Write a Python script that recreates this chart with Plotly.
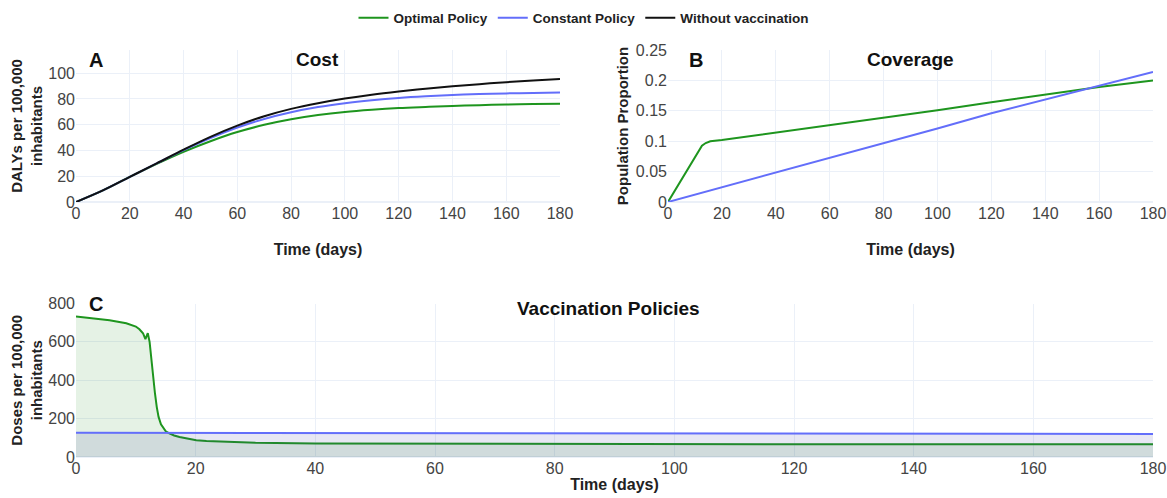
import plotly.graph_objects as go

# ---- Data ----
t_cost = [0, 10, 20, 30, 40, 50, 60, 70, 80, 90, 100, 110, 120, 130, 140, 150, 160, 170, 180]
cost_optimal = [0, 9, 19.5, 29.6, 39, 47.2, 54.3, 59.9, 64.2, 67.5, 69.9, 71.6, 72.9, 73.8, 74.6, 75.2, 75.7, 76, 76.3]
cost_constant = [0, 9, 19.5, 30, 40.3, 49.7, 57.8, 64.5, 69.7, 73.7, 76.7, 79, 80.8, 82.1, 83.1, 83.8, 84.3, 84.7, 85]
cost_without = [0, 9, 19.5, 30, 40.6, 50.6, 59.3, 66.6, 72.3, 76.7, 80.3, 83.3, 85.8, 88, 89.9, 91.5, 93, 94.3, 95.5]

t_cov_opt = [0, 12.6, 14, 15.7, 20, 40, 60, 80, 100, 120, 140, 160, 180]
cov_optimal = [0, 0.0926, 0.097, 0.1, 0.102, 0.114, 0.126, 0.139, 0.151, 0.164, 0.177, 0.189, 0.2]
t_cov_const = [0, 20, 40, 60, 80, 100, 120, 140, 160, 180]
cov_constant = [0, 0.024, 0.048, 0.073, 0.097, 0.121, 0.146, 0.169, 0.192, 0.214]

t_dose_opt = [0, 2, 4, 5.6, 8.4, 10.0, 10.6, 11.2, 11.6, 12.0, 12.3, 12.6, 12.9, 13.2, 13.5, 13.8, 14.2, 14.6, 15.0, 15.6, 16.4, 17.3, 18.5, 20.1, 21.8, 25, 30, 40, 60, 80, 100, 120, 140, 160, 180]
dose_optimal = [732, 726, 719, 713, 697, 680, 666, 645, 614, 645, 600, 505, 420, 331, 260, 209, 170, 148, 134, 123, 112, 104, 95, 87, 83, 78, 74, 71, 69, 68, 67, 66.5, 66, 66, 66]
t_dose_const = [0, 30, 60, 90, 120, 150, 180]
dose_constant = [126, 125.5, 124.5, 123.5, 122.5, 121.5, 120.5]

GREEN = "#1e951e"
BLUE = "#636efa"
BLACK = "#111111"
FONT = "Liberation Sans, Arial, sans-serif"

fig = go.Figure()

# Panel A
fig.add_trace(go.Scatter(x=t_cost, y=cost_optimal, mode="lines", line=dict(color=GREEN, width=2, shape="spline"),
                         name="Optimal Policy", legendgroup="opt", xaxis="x", yaxis="y"))
fig.add_trace(go.Scatter(x=t_cost, y=cost_constant, mode="lines", line=dict(color=BLUE, width=2, shape="spline"),
                         name="Constant Policy", legendgroup="const", xaxis="x", yaxis="y"))
fig.add_trace(go.Scatter(x=t_cost, y=cost_without, mode="lines", line=dict(color=BLACK, width=2, shape="spline"),
                         name="Without vaccination", legendgroup="without", xaxis="x", yaxis="y"))

# Panel B
fig.add_trace(go.Scatter(x=t_cov_opt, y=cov_optimal, mode="lines", line=dict(color=GREEN, width=2),
                         name="Optimal Policy", legendgroup="opt", showlegend=False, xaxis="x2", yaxis="y2"))
fig.add_trace(go.Scatter(x=t_cov_const, y=cov_constant, mode="lines", line=dict(color=BLUE, width=2),
                         name="Constant Policy", legendgroup="const", showlegend=False, xaxis="x2", yaxis="y2"))

# Panel C
fig.add_trace(go.Scatter(x=t_dose_opt, y=dose_optimal, mode="lines", line=dict(color=GREEN, width=2),
                         fill="tozeroy", fillcolor="rgba(0,128,0,0.1)",
                         name="Optimal Policy", legendgroup="opt", showlegend=False, xaxis="x3", yaxis="y3"))
fig.add_trace(go.Scatter(x=t_dose_const, y=dose_constant, mode="lines", line=dict(color=BLUE, width=2),
                         fill="tozeroy", fillcolor="rgba(60,60,160,0.12)",
                         name="Constant Policy", legendgroup="const", showlegend=False, xaxis="x3", yaxis="y3"))

tickfont = dict(family=FONT, size=16, color="#444")
grid = "#EBF0F8"

def xax(domain, anchor, standoff):
    return dict(domain=domain, anchor=anchor, range=[0, 180], dtick=20, tickfont=tickfont,
                gridcolor=grid, zeroline=False, showline=False, ticks="", automargin=False,
                title=dict(text="<b>Time (days)</b>", font=dict(family=FONT, size=16, color="#222"),
                           standoff=standoff))

def yax(domain, anchor, rng, dtick, title, standoff):
    return dict(domain=domain, anchor=anchor, range=rng, dtick=dtick, tickfont=tickfont,
                gridcolor=grid, zeroline=True, zerolinecolor=grid, zerolinewidth=2, showline=False,
                ticks="", automargin=False,
                title=dict(text=title, font=dict(family=FONT, size=15, color="#222"), standoff=standoff))

W, H = 1167, 498
ax_dom = [76 / W, 560 / W]
bx_dom = [668 / W, 1153 / W]
cx_dom = [76 / W, 1153 / W]
ab_y = [1 - 202 / H, 1 - 50 / H]
c_y = [1 - 457 / H, 1 - 303.5 / H]

fig.update_layout(
    width=W, height=H,
    template="plotly_white",
    margin=dict(l=0, r=0, t=0, b=0),
    font=dict(family=FONT),
    xaxis=xax(ax_dom, "y", 22),
    yaxis=yax(ab_y, "x", [0, 118], 20, "<b>DALYs per 100,000<br>inhabitants</b>", 2),
    xaxis2=xax(bx_dom, "y2", 22),
    yaxis2=yax(ab_y, "x2", [0, 0.25], 0.05, "<b>Population Proportion</b>", 3),
    xaxis3=xax(cx_dom, "y3", 2),
    yaxis3=yax(c_y, "x3", [0, 800], 200, "<b>Doses per 100,000<br>inhabitants</b>", 2),
    legend=dict(orientation="h", x=0.5, xanchor="center", y=1 - 18 / H, yanchor="middle",
                font=dict(family=FONT, size=13.5, color="#222", weight="bold"),
                tracegroupgap=0),
    showlegend=True,
)

def ann(text, x, y, size, xanchor="center"):
    fig.add_annotation(text=f"<b>{text}</b>", x=x / W, y=1 - y / H, xref="paper", yref="paper",
                       showarrow=False, xanchor=xanchor, yanchor="middle",
                       font=dict(family=FONT, size=size, color="#111"))

ann("A", 87, 60, 20, "left")
ann("Cost", 318, 59, 19)
ann("B", 687, 60, 20, "left")
ann("Coverage", 910, 59, 19)
ann("C", 87, 304, 20, "left")
ann("Vaccination Policies", 608, 308, 19)

fig.write_html("out.html", config={"displayModeBar": False},
               post_script="document.body.style.margin='0px';")
